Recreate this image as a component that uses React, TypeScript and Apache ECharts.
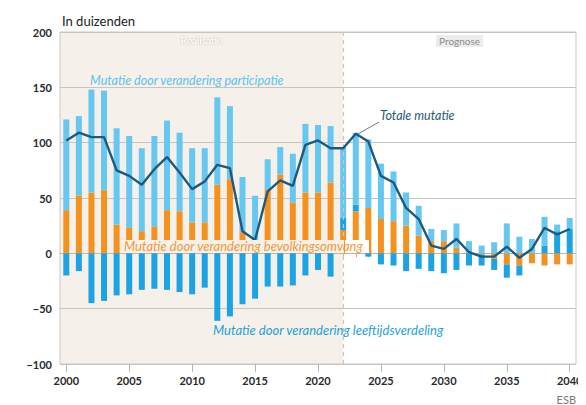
import React, { useEffect, useRef } from "react";
import * as echarts from "echarts";

const years = [
  "2000", "2001", "2002", "2003", "2004", "2005", "2006", "2007", "2008", "2009",
  "2010", "2011", "2012", "2013", "2014", "2015", "2016", "2017", "2018", "2019",
  "2020", "2021", "2022", "2023", "2024", "2025", "2026", "2027", "2028", "2029",
  "2030", "2031", "2032", "2033", "2034", "2035", "2036", "2037", "2038", "2039", "2040",
];

// Mutatie door verandering bevolkingsomvang
const bevolking = [
  39, 52, 55, 57, 26, 23, 20, 24, 39, 38,
  28, 28, 62, 67, 19, 8, 58, 71, 46, 55,
  55, 64, 21, 38, 41, 31, 29, 25, 16, 11,
  11, 5, 1, -1, -5, -10, -11, -9, -11, -10, -10,
];
// Mutatie door verandering leeftijdsverdeling
const leeftijd = [
  -20, -16, -45, -43, -38, -37, -33, -32, -33, -35,
  -37, -31, -61, -57, -46, -41, -30, -30, -29, -20,
  -15, -21, 11, 6, -3, -10, -11, -16, -14, -16,
  -18, -15, -11, -10, -10, -12, -9, 0, 7, 20, 22,
];
// Mutatie door verandering participatie
const participatie = [
  82, 72, 93, 90, 87, 83, 75, 82, 81, 71,
  67, 67, 79, 66, 50, 44, 27, 25, 44, 62,
  61, 51, 64, 65, 62, 50, 45, 30, 27, 11,
  10, 22, 10, 7, 10, 27, 15, 13, 26, 6, 10,
];
// Totale mutatie
const totaal = [
  102, 109, 105, 105, 75, 70, 62, 76, 87, 73,
  58, 65, 80, 77, 20, 12, 56, 66, 61, 98,
  102, 95, 95, 108, 101, 70, 64, 41, 31, 7,
  4, 13, 1, -3, -3, 6, -4, 4, 23, 17, 22,
];

const splitYear = "2022";

const FONT = "Lato, 'Open Sans', sans-serif";
const BEIGE = "#f5f0e9";

export default function App() {
  const ref = useRef<HTMLDivElement>(null);
  useEffect(() => {
    if (!ref.current) return;
    const chart = echarts.init(ref.current, undefined, { renderer: "svg" });
    const splitIdx = years.indexOf(splitYear);
    const option: any = {
      animation: false,
      backgroundColor: "#ffffff",
      textStyle: { fontFamily: FONT },
      grid: {
        left: 52,
        right: 18,
        top: 24,
        bottom: 49,
        show: true,
        borderColor: "#c9c9c9",
        borderWidth: 1,
        backgroundColor: "transparent",
      },
      xAxis: [
        {
          type: "category",
          data: years,
          boundaryGap: true,
          position: "bottom",
          splitLine: { show: false },
          axisLine: { show: true, lineStyle: { color: "#b5b5b5" } },
          axisTick: {
            show: true,
            interval: 0,
            alignWithLabel: true,
            length: 4,
            lineStyle: { color: "#b5b5b5" },
          },
          axisLabel: {
            interval: 4,
            color: "#2a2a2a",
            fontWeight: "bold",
            fontSize: 11,
            margin: 11,
          },
        },
        {
          type: "category",
          data: years,
          boundaryGap: true,
          position: "bottom",
          offset: 0,
          splitLine: { show: false },
          axisLine: { show: false },
          axisTick: {
            show: true,
            interval: 4,
            alignWithLabel: true,
            length: 8,
            lineStyle: { color: "#b5b5b5" },
          },
          axisLabel: { show: false },
        },
        {
          type: "value",
          min: -0.5,
          max: years.length - 0.5,
          show: false,
        },
      ],
      yAxis: {
        type: "value",
        min: -100,
        max: 200,
        interval: 50,
        axisLine: { show: false },
        axisTick: { show: false },
        splitLine: { show: true, lineStyle: { color: "#c4c4c4", width: 1 } },
        axisLabel: {
          color: "#2a2a2a",
          fontWeight: "bold",
          fontSize: 11,
          margin: 8,
          formatter: (v: number) => String(v).replace("-", "\u2212"),
        },
      },
      series: [
        {
          name: "periodes",
          type: "line",
          xAxisIndex: 2,
          data: [],
          silent: true,
          markArea: {
            silent: true,
            data: [
              [
                {
                  xAxis: -0.5,
                  itemStyle: { color: "rgba(214,196,168,0.25)" },
                  label: {
                    show: true,
                    position: "insideTop",
                    distance: 3,
                    formatter: "Realisatie",
                    color: "#ffffff",
                    fontSize: 10,
                    textShadowColor: "rgba(150,140,125,0.6)",
                    textShadowBlur: 2,
                  },
                },
                { xAxis: splitIdx },
              ],
              [
                {
                  xAxis: splitIdx,
                  itemStyle: { color: "rgba(255,255,255,0)" },
                  label: {
                    show: true,
                    position: "insideTop",
                    distance: 3,
                    formatter: "Prognose",
                    color: "#8e8e8e",
                    fontSize: 10,
                    backgroundColor: "#ececec",
                    padding: [1, 3, 1, 3],
                  },
                },
                { xAxis: years.length - 0.5 },
              ],
            ],
          },
          markLine: {
            silent: true,
            symbol: "none",
            label: { show: false },
            lineStyle: { color: "#cfc6ba", type: [4, 4], width: 1.2 },
            data: [{ xAxis: splitIdx }],
          },
        },
        {
          name: "Mutatie door verandering bevolkingsomvang",
          type: "bar",
          stack: "m",
          barWidth: 6,
          data: bevolking,
          itemStyle: { color: "#f5911f" },
        },
        {
          name: "Mutatie door verandering leeftijdsverdeling",
          type: "bar",
          stack: "m",
          barWidth: 6,
          data: leeftijd,
          itemStyle: { color: "#1ba3e4" },
        },
        {
          name: "Mutatie door verandering participatie",
          type: "bar",
          stack: "m",
          barWidth: 6,
          data: participatie,
          itemStyle: { color: "#66c7f1" },
        },
        {
          name: "Totale mutatie",
          type: "line",
          data: totaal,
          symbol: "none",
          z: 5,
          lineStyle: { color: "#1e5a7d", width: 2.4 },
          itemStyle: { color: "#1e5a7d" },
        },
      ],
      graphic: [
        {
          type: "text",
          left: 54,
          top: 6,
          style: { text: "In duizenden", fill: "#222", fontSize: 13, fontFamily: FONT },
        },
        {
          type: "text",
          left: 82,
          top: 66,
          z: 10,
          style: {
            text: "Mutatie door verandering participatie",
            fill: "#5dc2ee",
            fontSize: 12.5,
            fontStyle: "italic",
            fontFamily: FONT,
          },
        },
        {
          type: "rect",
          z: 9,
          silent: true,
          shape: { x: 114, y: 232, width: 222, height: 13 },
          style: { fill: BEIGE },
        },
        {
          type: "rect",
          z: 9,
          silent: true,
          shape: { x: 337, y: 232, width: 24, height: 13 },
          style: { fill: "#ffffff" },
        },
        {
          type: "text",
          left: 116,
          top: 231,
          z: 10,
          style: {
            text: "Mutatie door verandering bevolkingsomvang",
            fill: "#f39a3a",
            fontSize: 13,
            fontStyle: "italic",
            fontFamily: FONT,
          },
        },
        {
          type: "text",
          left: 205,
          top: 315,
          z: 10,
          style: {
            text: "Mutatie door verandering leeftijdsverdeling",
            fill: "#1da2dd",
            fontSize: 13,
            fontStyle: "italic",
            fontFamily: FONT,
          },
        },
        {
          type: "text",
          left: 372,
          top: 101,
          z: 10,
          style: {
            text: "Totale mutatie",
            fill: "#1e5a7d",
            fontSize: 12.5,
            fontStyle: "italic",
            fontFamily: FONT,
          },
        },
        {
          type: "line",
          z: 10,
          shape: { x1: 371, y1: 114, x2: 350, y2: 126 },
          style: { stroke: "#777", lineWidth: 1 },
        },
        {
          type: "text",
          right: 18,
          top: 386,
          style: { text: "ESB", fill: "#777", fontSize: 11, fontFamily: FONT },
        },
      ],
    };
    chart.setOption(option);
    return () => chart.dispose();
  }, []);
  return <div ref={ref} style={{ width: 586, height: 405 }} />;
}
